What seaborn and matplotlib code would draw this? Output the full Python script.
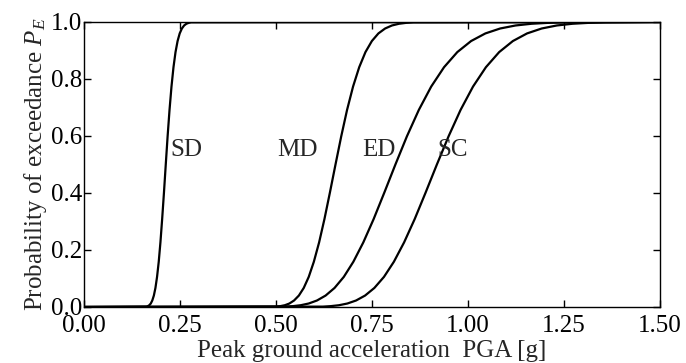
import numpy as np
import pandas as pd
import matplotlib
matplotlib.use("Agg")
import matplotlib.pyplot as plt
import seaborn as sns

# probability levels shared by all curves
pe_levels = [0.0, 0.0013, 0.0030, 0.0062, 0.0122, 0.0228, 0.0401, 0.0668, 0.1056,
             0.1587, 0.2266, 0.3085, 0.4013, 0.5, 0.5987, 0.6915, 0.7734, 0.8413,
             0.8944, 0.9332, 0.9599, 0.9772, 0.9878, 0.9938, 0.9970, 0.9987, 1.0]

# PGA [g] where each damage-state curve reaches those levels
pga_sd = [0.0, 0.1626, 0.1663, 0.1701, 0.1740, 0.1779, 0.1820, 0.1861, 0.1903,
          0.1947, 0.1991, 0.2036, 0.2083, 0.2130, 0.2178, 0.2228, 0.2279, 0.2331,
          0.2384, 0.2438, 0.2493, 0.2550, 0.2608, 0.2667, 0.2728, 0.2790, 1.5]
pga_md = [0.0, 0.5000, 0.5114, 0.5230, 0.5349, 0.5471, 0.5596, 0.5723, 0.5853,
          0.5986, 0.6123, 0.6262, 0.6404, 0.6550, 0.6699, 0.6851, 0.7007, 0.7167,
          0.7330, 0.7497, 0.7667, 0.7842, 0.8020, 0.8203, 0.8389, 0.8580, 1.5]
pga_ed = [0.0, 0.5249, 0.5443, 0.5644, 0.5852, 0.6068, 0.6292, 0.6525, 0.6766,
          0.7015, 0.7274, 0.7543, 0.7821, 0.8110, 0.8409, 0.8720, 0.9042, 0.9376,
          0.9722, 1.0081, 1.0453, 1.0838, 1.1239, 1.1653, 1.2084, 1.2530, 1.5]
pga_sc = [0.0, 0.6222, 0.6428, 0.6640, 0.6859, 0.7086, 0.7320, 0.7562, 0.7812,
          0.8070, 0.8336, 0.8612, 0.8896, 0.9190, 0.9494, 0.9807, 1.0131, 1.0466,
          1.0812, 1.1169, 1.1538, 1.1919, 1.2313, 1.2719, 1.3139, 1.3574, 1.5]

states = ["SD", "MD", "ED", "SC"]
label_x = [0.224, 0.503, 0.724, 0.919]

rows = []
for st, xs in zip(states, [pga_sd, pga_md, pga_ed, pga_sc]):
    for i, (x, p) in enumerate(zip(xs, pe_levels)):
        rows.append({"state": st, "order": i, "PGA": x, "PE": p})
df = pd.DataFrame(rows)

sns.set_style("ticks")
plt.rcParams["font.family"] = ["Liberation Serif", "DejaVu Serif"]
plt.rcParams["mathtext.fontset"] = "custom"
plt.rcParams["mathtext.rm"] = "Liberation Serif"
plt.rcParams["mathtext.it"] = "Liberation Serif:italic"

fs = 18
fig = plt.figure(figsize=(6.86, 3.63), dpi=100)
ax = fig.add_axes([0.1224, 0.1543, 0.8397, 0.7851])

sns.lineplot(data=df, x="PGA", y="PE", hue="state", units="state", estimator=None,
             sort=False, palette=["black"] * 4, linewidth=1.6, legend=False, ax=ax)

for st, lx in zip(states, label_x):
    ax.text(lx, 0.55, st, ha="left", va="center", fontsize=fs)

ax.set_xlim(0, 1.5)
ax.set_ylim(0, 1.0)
ax.set_xticks([0.0, 0.25, 0.5, 0.75, 1.0, 1.25, 1.5])
ax.set_xticklabels(["0.00", "0.25", "0.50", "0.75", "1.00", "1.25", "1.50"])
ax.set_yticks([0.0, 0.2, 0.4, 0.6, 0.8, 1.0])
ax.set_yticklabels(["0.0", "0.2", "0.4", "0.6", "0.8", "1.0"])
ax.tick_params(direction="in", length=5, width=1, top=True, right=True,
               labelsize=fs, colors="black")
ax.tick_params(axis="x", pad=6)
ax.tick_params(axis="y", pad=1.5)
for s in ax.spines.values():
    s.set_linewidth(1.0)
    s.set_color("black")
    s.set_visible(True)

ax.set_xlabel("Peak ground acceleration  PGA [g]", fontsize=fs, labelpad=2)
ax.set_ylabel("Probability of exceedance $P_E$", fontsize=fs, labelpad=1)

fig.savefig("out.png", dpi=100)
